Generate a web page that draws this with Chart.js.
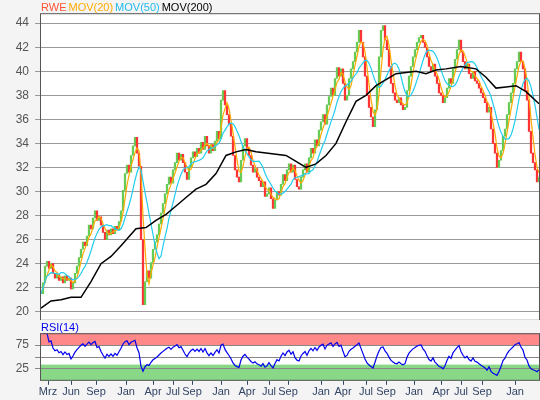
<!DOCTYPE html>
<html>
<head>
<meta charset="utf-8">
<script src="https://cdn.jsdelivr.net/npm/chart.js@4.4.0/dist/chart.umd.min.js"></script>
<style>
  body { margin: 0; background: #f4f4f4; font-family: "Liberation Sans", Arial, sans-serif; }
  #wrap { position: relative; width: 540px; height: 400px; overflow: hidden; }
  canvas { position: absolute; left: 0; }
</style>
</head>
<body>
<div id="wrap">
  <canvas id="main" width="540" height="334" style="top:0"></canvas>
  <canvas id="rsi" width="540" height="80" style="top:320px"></canvas>
</div>
<script>
// closing prices, one sample per bar
var closes = [
  21.5,22.4,23.8,24.2,23.6,24.0,23.2,22.8,23.1,22.6,
  22.9,22.4,23.0,22.6,22.8,21.9,22.4,23.2,23.8,24.5,
  25.2,25.8,25.5,26.3,27.2,26.9,27.8,28.4,27.6,27.9,
  27.2,26.6,26.0,26.8,26.4,26.9,26.5,27.1,26.8,27.5,
  28.4,30.1,31.5,32.2,31.6,33.0,33.8,34.5,33.2,32.1,
  26.0,20.6,22.5,23.4,22.8,24.1,25.2,25.8,26.4,27.3,
  28.2,29.0,29.8,30.6,31.2,30.7,31.8,32.4,33.2,32.6,
  33.1,32.4,31.6,31.0,32.0,32.8,33.3,32.9,33.6,33.2,
  34.1,33.5,34.6,33.8,33.2,33.9,33.4,34.2,35.0,34.4,
  37.6,38.4,37.2,36.4,35.6,34.6,33.0,31.8,31.2,30.8,
  32.6,33.8,34.4,33.6,33.0,32.2,31.6,31.9,31.2,30.9,
  30.4,30.8,29.6,29.8,30.3,29.4,28.6,29.3,30.0,29.7,
  30.6,31.4,30.9,31.8,32.3,31.6,32.2,31.0,30.4,30.2,
  31.2,31.8,32.3,31.6,32.8,33.6,33.2,34.3,33.8,35.1,
  35.8,36.4,35.6,37.2,37.9,38.6,38.0,39.4,40.3,39.6,
  40.2,39.0,37.6,38.0,39.4,40.2,40.8,41.6,42.4,43.4,
  42.4,41.2,39.6,38.0,37.0,36.2,35.4,36.8,38.8,41.2,
  43.4,43.8,42.6,41.8,40.4,39.0,38.2,37.6,37.4,37.8,
  37.2,36.8,37.0,38.4,39.6,40.4,41.2,41.8,42.4,42.8,
  43.0,42.4,42.0,41.2,40.4,40.0,40.6,39.6,39.0,38.2,
  38.0,37.4,37.8,38.6,39.4,39.0,40.2,41.0,41.8,42.6,
  41.6,40.8,40.2,40.6,39.8,39.4,40.0,39.2,39.0,38.6,
  38.2,37.8,37.4,36.6,37.0,35.2,34.0,33.2,32.0,32.6,
  33.4,34.6,35.2,36.4,37.4,38.2,39.0,40.2,40.8,41.6,
  40.8,40.2,38.4,37.6,35.0,33.2,32.4,31.8,30.8,31.2
];
var mov200Idx = [0,5,10,15,20,25,30,35,40,47.5,52.5,57.5,62.5,67.5,72.5,77.5,82.5,87.5,92.5,97.5,102.5,107.5,112.5,117.5,122.5,127.5,132.5,137.5,142.5,147.5,152.5,157.5,162.5,167.5,172.5,177.5,182.5,187.5,192.5,197.5,202.5,210,217.5,222.5,227.5,232.5,237.5,242.5,249];
var mov200Val = [20.3,20.9,21.0,21.2,21.2,22.5,24.0,24.6,25.5,26.9,27.0,27.6,28.1,28.8,29.5,30.2,30.6,31.5,33.0,33.3,33.5,33.3,33.2,33.1,33.0,32.5,32.0,32.3,33.0,34.0,35.8,37.5,38.0,38.8,39.3,39.8,39.9,40.0,39.8,40.1,40.2,40.4,40.2,39.5,38.6,38.7,38.8,38.3,37.3];
// month ticks
var tickIdx = [3.5,15,27.5,42.5,56,66,75.5,90,103,114,123.5,140,151,162.5,172.5,186.5,200,210,220.5,237];
var tickLabels = ['Mrz','Jun','Sep','Jan','Apr','Jul','Sep','Jan','Apr','Jul','Sep','Jan','Apr','Jul','Sep','Jan','Apr','Jul','Sep','Jan'];

function movingAvg(arr, n) {
    var out = [];
    for (var i = 0; i < arr.length; i++) {
        var s = 0, c = 0;
        for (var j = Math.max(0, i - n + 1); j <= i; j++) { s += arr[j]; c++; }
        out.push({x: i, y: s / c});
    }
    return out;
}
function rsi(arr, n) {
    var out = [], g = 0, l = 0;
    for (var i = 1; i < arr.length; i++) {
        var d = arr[i] - arr[i - 1];
        var up = d > 0 ? d : 0, dn = d < 0 ? -d : 0;
        if (i <= n) { g += up / n; l += dn / n; }
        else { g = (g * (n - 1) + up) / n; l = (l * (n - 1) + dn) / n; }
        out.push({x: i, y: l === 0 ? 100 : 100 - 100 / (1 + g / l)});
    }
    return out;
}

var bars = [], barColors = [];
for (var i = 0; i < closes.length; i++) {
    var prev = i > 0 ? closes[i - 1] : closes[i];
    bars.push({x: i, y: [prev, closes[i]]});
    barColors.push(closes[i] >= prev ? '#66cc55' : '#ff3333');
}
var m200 = mov200Idx.map(function (x, k) { return {x: x, y: mov200Val[k]}; });

var whiteArea = {
    id: 'whitearea',
    beforeDraw: function (chart) {
        var a = chart.chartArea, ctx = chart.ctx;
        ctx.save();
        ctx.fillStyle = '#f4f4f4';
        ctx.fillRect(0, 0, chart.width, chart.height);
        ctx.fillStyle = '#ffffff';
        ctx.fillRect(a.left, a.top, a.right - a.left, a.bottom - a.top);
        var bands = chart.config.options.bands;
        if (bands) {
            var y = chart.scales.y;
            bands.forEach(function (b) {
                ctx.fillStyle = b[2];
                ctx.fillRect(a.left, y.getPixelForValue(b[1]), a.right - a.left, y.getPixelForValue(b[0]) - y.getPixelForValue(b[1]));
            });
        }
        ctx.restore();
    },
    afterDraw: function (chart) {
        var a = chart.chartArea, ctx = chart.ctx;
        ctx.save();
        ctx.strokeStyle = '#555';
        ctx.lineWidth = 1;
        ctx.strokeRect(a.left + 0.5, a.top + 0.5, a.right - a.left - 1, a.bottom - a.top - 1);
        var t = chart.config.options.titleParts;
        ctx.font = '11px "Liberation Sans", Arial';
        ctx.textBaseline = 'bottom';
        var x = a.left + 1;
        t.forEach(function (p) {
            ctx.fillStyle = p[1];
            ctx.fillText(p[0], x, a.top);
            x += ctx.measureText(p[0]).width + 2;
        });
        ctx.restore();
    }
};

var xCommon = {
    type: 'linear', min: -0.5, max: 249.5, offset: false,
    afterBuildTicks: function (s) { s.ticks = tickIdx.map(function (v) { return {value: v}; }); },
    grid: {display: false, offset: false}
};
function yFit(s) { s.width = 40; }

new Chart(document.getElementById('main'), {
    data: {
        datasets: [
            {type: 'bar', data: bars, backgroundColor: barColors, barThickness: 1.6, order: 4},
            {type: 'line', data: movingAvg(closes, 4), borderColor: '#ffaa00', borderWidth: 1.2, pointRadius: 0, order: 3},
            {type: 'line', data: movingAvg(closes, 10), borderColor: '#22ccee', borderWidth: 1.2, pointRadius: 0, order: 2},
            {type: 'line', data: m200, borderColor: '#000000', borderWidth: 1.5, pointRadius: 0, order: 1}
        ]
    },
    options: {
        responsive: false, animation: false,
        layout: {padding: {top: 12, right: 0, bottom: 1, left: 0}},
        titleParts: [['RWE', '#ff5533'], ['MOV(20)', '#ffaa00'], ['MOV(50)', '#22bbee'], ['MOV(200)', '#000000']],
        plugins: {legend: {display: false}, tooltip: {enabled: false}},
        scales: {
            x: Object.assign({}, xCommon, {display: false}),
            y: {
                min: 19.25, max: 44.83, afterFit: yFit,
                afterBuildTicks: function (s) { var t = []; for (var v = 20; v <= 44; v += 2) t.push({value: v}); s.ticks = t; },
                ticks: {color: '#555', font: {size: 12, family: 'Liberation Sans'}, padding: 6},
                grid: {color: '#999', tickLength: 5, drawTicks: true},
                border: {display: false}
            }
        }
    },
    plugins: [whiteArea]
});

new Chart(document.getElementById('rsi'), {
    data: {
        datasets: [
            {type: 'line', data: rsi(closes, 8), borderColor: '#0000ee', borderWidth: 1.2, pointRadius: 0}
        ]
    },
    options: {
        responsive: false, animation: false,
        layout: {padding: {top: 13, right: 0, bottom: 0, left: 0}},
        titleParts: [['RSI(14)', '#0000ee']],
        bands: [[75, 100, '#ff8888'], [0, 34, '#88d888']],
        plugins: {legend: {display: false}, tooltip: {enabled: false}},
        scales: {
            x: Object.assign({}, xCommon, {
                ticks: {color: '#334466', font: {size: 11, family: 'Liberation Sans'}, autoSkip: false, maxRotation: 0, padding: 1,
                    callback: function (v) { var k = tickIdx.indexOf(v); return k >= 0 ? tickLabels[k] : ''; }},
                grid: {display: true, drawOnChartArea: false, tickLength: 4, color: '#334466'},
                border: {display: false}
            }),
            y: {
                min: 0, max: 100, afterFit: yFit,
                afterBuildTicks: function (s) { s.ticks = [{value: 25}, {value: 50}, {value: 75}]; },
                ticks: {color: '#555', font: {size: 12, family: 'Liberation Sans'}, padding: 6,
                    callback: function (v) { return v === 50 ? '' : v; }},
                grid: {color: '#888', tickLength: 5},
                border: {display: false}
            }
        }
    },
    plugins: [whiteArea]
});
</script>
</body>
</html>
